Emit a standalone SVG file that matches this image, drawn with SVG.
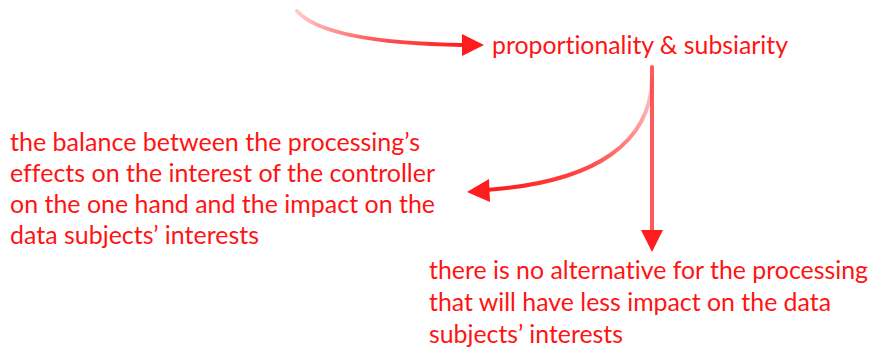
<svg xmlns="http://www.w3.org/2000/svg" width="873" height="351" viewBox="0 0 873 351">
  <style>
    .lbl { font-family: Lato, "Liberation Sans", sans-serif; font-size: 25px; font-weight: 400; fill: #ff1414; font-variant-ligatures: none; font-feature-settings: "liga" 0, "clig" 0; }
    .arrow { fill: none; stroke-width: 4; stroke-linecap: round; }
    .head { fill: #ff1a1a; }
  </style>
  <defs>
    <linearGradient id="fadeTop" gradientUnits="userSpaceOnUse" x1="297" y1="12" x2="465" y2="46">
      <stop offset="0" stop-color="#ff2a2a" stop-opacity="0.25"/>
      <stop offset="0.5" stop-color="#ff2a2a" stop-opacity="0.8"/>
      <stop offset="1" stop-color="#ff1a1a" stop-opacity="1"/>
    </linearGradient>
    <linearGradient id="fadeCurve" gradientUnits="userSpaceOnUse" x1="652" y1="80" x2="488" y2="190">
      <stop offset="0" stop-color="#ff2a2a" stop-opacity="0.25"/>
      <stop offset="0.5" stop-color="#ff2a2a" stop-opacity="0.85"/>
      <stop offset="1" stop-color="#ff1a1a" stop-opacity="1"/>
    </linearGradient>
    <filter id="soft" x="-10%" y="-10%" width="120%" height="120%">
      <feGaussianBlur stdDeviation="0.7"/>
    </filter>
  </defs>

  <g id="connectors" filter="url(#soft)">
    <!-- incoming arrow to proportionality -->
    <path class="arrow" stroke="url(#fadeTop)" d="M297,11 Q325,43 464,45"/>
    <polygon class="head" points="462,34 484,45 462,56"/>
    <!-- curved arrow to balance text -->
    <path class="arrow" stroke="url(#fadeCurve)" d="M652,80 C650,140 600,182 486,190"/>
    <polygon class="head" points="489,179 467,192 490,202"/>
    <!-- straight arrow to alternative text -->
    <path class="arrow" stroke="#ff3d3d" stroke-opacity="0.85" d="M652,67 L652,232"/>
    <polygon class="head" points="641,230 663,230 652,252"/>
  </g>

  <g id="node-proportionality">
    <text class="lbl" x="492" y="54" textLength="296" lengthAdjust="spacingAndGlyphs">proportionality &amp; subsiarity</text>
  </g>

  <g id="node-balance">
    <text class="lbl" x="10" y="151" textLength="410" lengthAdjust="spacingAndGlyphs">the balance between the processing’s</text>
    <text class="lbl" x="10" y="182" textLength="425" lengthAdjust="spacingAndGlyphs">effects on the interest of the controller</text>
    <text class="lbl" x="10" y="213" textLength="425" lengthAdjust="spacingAndGlyphs">on the one hand and the impact on the</text>
    <text class="lbl" x="10" y="244" textLength="249" lengthAdjust="spacingAndGlyphs">data subjects’ interests</text>
  </g>

  <g id="node-alternative">
    <text class="lbl" x="429" y="279" textLength="439" lengthAdjust="spacingAndGlyphs">there is no alternative for the processing</text>
    <text class="lbl" x="429" y="311" textLength="402" lengthAdjust="spacingAndGlyphs">that will have less impact on the data</text>
    <text class="lbl" x="429" y="343" textLength="194" lengthAdjust="spacingAndGlyphs">subjects’ interests</text>
  </g>
</svg>
